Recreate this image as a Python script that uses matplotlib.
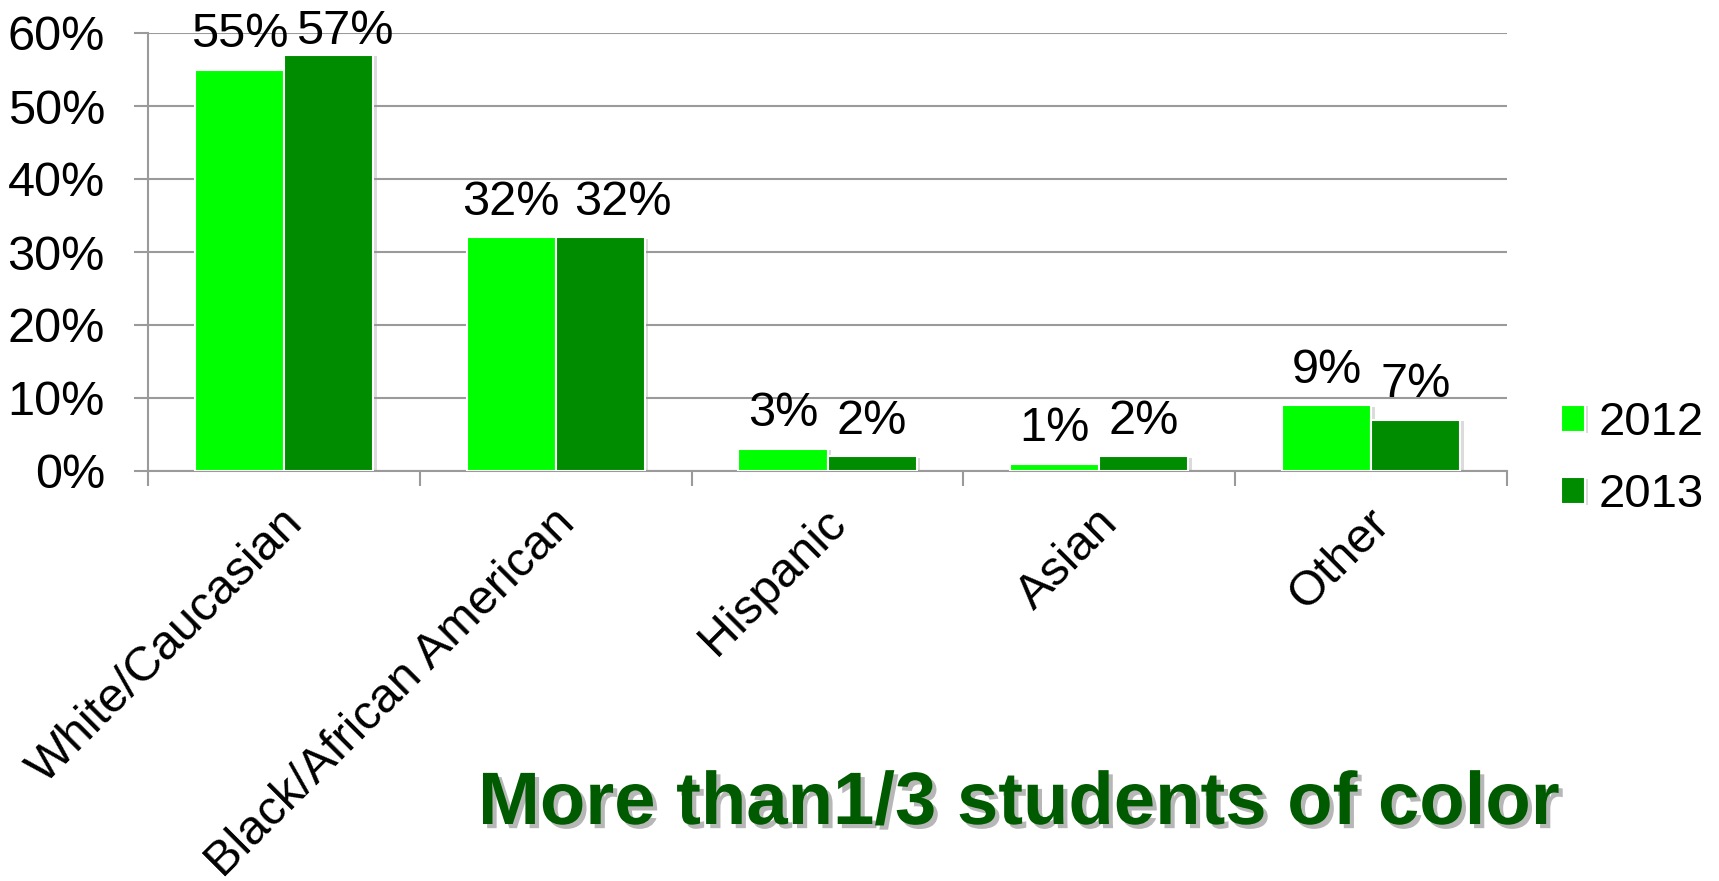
import numpy as np
import matplotlib
matplotlib.use("Agg")
import matplotlib.pyplot as plt
import matplotlib.patheffects as pe

plt.rcParams['font.family'] = ['Liberation Sans', 'DejaVu Sans']

categories = ["White/Caucasian", "Black/African American", "Hispanic", "Asian", "Other"]
years = ["2012", "2013"]
values_2012 = [55, 32, 3, 1, 9]
values_2013 = [57, 32, 2, 2, 7]
y_ticks = [0, 10, 20, 30, 40, 50, 60]

# horizontal nudge (points) for 2013 labels that would collide with 2012 labels
nudge_2013 = [12, 16, 0, 0, 0]

colors = ["#00ff00", "#008c00"]
grid_col = "#9a9a9a"

fig = plt.figure(figsize=(17.19, 8.81), dpi=100)
ax = fig.add_axes([148 / 1719, 1 - 471 / 881, (1507 - 148) / 1719, (471 - 33) / 881])

x = np.arange(len(categories))
w = 0.328
series = [values_2012, values_2013]
shadow = [pe.withSimplePatchShadow(offset=(2.5, -1), shadow_rgbFace="#999999", alpha=0.35)]
for i, vals in enumerate(series):
    pos = x + (i - 0.5) * w
    bars = ax.bar(pos, vals, width=w, color=colors[i], edgecolor="white",
                  linewidth=1.5, label=years[i], zorder=3, path_effects=shadow)
    for j, (b, v) in enumerate(zip(bars, vals)):
        dx = nudge_2013[j] if i == 1 else 0
        y = min(v + 3.1, 58.5)
        ax.annotate(f"{v}%", (b.get_x() + b.get_width() / 2, y),
                    xytext=(dx, 0), textcoords="offset points",
                    ha="center", va="baseline", fontsize=35, color="black",
                    annotation_clip=False)

ax.set_xlim(-0.5, len(categories) - 0.5)
ax.set_ylim(0, 60)
ax.set_yticks(y_ticks)
ax.set_yticklabels([f"{t}%" for t in y_ticks], fontsize=35)
ax.yaxis.grid(True, color=grid_col, linewidth=1.5, zorder=0)
ax.tick_params(axis="y", length=10, width=1.5, color=grid_col, pad=21)

# category boundary ticks on x axis
ax.set_xticks(np.arange(len(categories) + 1) - 0.5)
ax.set_xticklabels([])
ax.tick_params(axis="x", length=11, width=1.5, color=grid_col)
for i, c in enumerate(categories):
    ax.annotate(c, (x[i], 0), xytext=(-3, -21), textcoords="offset points",
                rotation=45, ha="right", va="top", rotation_mode="anchor",
                fontsize=35)

for s in ["top", "right"]:
    ax.spines[s].set_visible(False)
for s in ["left", "bottom"]:
    ax.spines[s].set_color(grid_col)
    ax.spines[s].set_linewidth(1.5)

handles, labels = ax.get_legend_handles_labels()
fig.legend(handles, labels, loc="upper left", bbox_to_anchor=(1561 / 1719, 1 - 401 / 881),
           frameon=False, fontsize=34, handlelength=0.5, handleheight=0.5,
           handletextpad=0.3, labelspacing=0.6, borderpad=0, borderaxespad=0)

fig.text(478 / 1719, 1 - 824 / 881, "More than1/3 students of color",
         fontsize=53.5, fontweight="bold", color="#005a00", ha="left", va="baseline",
         path_effects=[pe.withSimplePatchShadow(offset=(3, -3), shadow_rgbFace="#888888", alpha=0.6)])

fig.savefig("out.png", dpi=100)
